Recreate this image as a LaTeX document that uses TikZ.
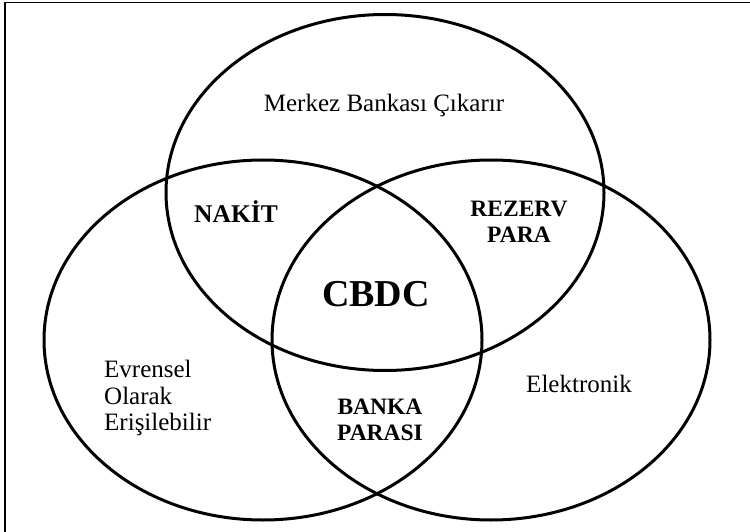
\documentclass[tikz,border=0pt]{standalone}
\usepackage{fontspec}
\setmainfont{Liberation Serif}
\begin{document}
\begin{tikzpicture}[x=1pt,y=-1pt,
  ring/.style={draw=black,line width=3pt},
  plain/.style={font=\fontsize{25}{26.5}\selectfont,inner sep=0pt},
  overlap/.style={font=\bfseries\fontsize{23.5}{26}\selectfont,inner sep=0pt,align=center},
  core/.style={font=\bfseries\fontsize{38}{40}\selectfont,inner sep=0pt}]
\useasboundingbox (0,0) rectangle (750,532);
\clip (0,0) rectangle (750,532);
\fill[white] (0,0) rectangle (750,532);
% frame (only its top and left sides fall inside the page)
\draw[line width=1.4pt] (5,2.5) rectangle (760,545);
% the three sets
\coordinate (ctop) at (385,192.5);
\coordinate (cleft) at (263,340);
\coordinate (cright) at (491,340);
\draw[ring] (ctop) ellipse [x radius=219, y radius=178];
\draw[ring] (cleft) ellipse [x radius=219, y radius=180];
\draw[ring] (cright) ellipse [x radius=219, y radius=180];
% labels
\node[plain] (issuer) at (384,105) {Merkez Bankası Çıkarır};
\node[overlap,font=\bfseries\fontsize{25.5}{26}\selectfont] (cash) at (236,212) {NAKİT};
\node[overlap] (reserve) at (519,222) {REZERV\\PARA};
\node[core] (cbdc) at (376,294) {CBDC};
\node[plain,align=left,anchor=west] (access) at (104,398) {Evrensel\\Olarak\\Erişilebilir};
\node[plain] (electronic) at (579,384) {Elektronik};
\node[overlap] (bank) at (380,420) {BANKA\\PARASI};
\end{tikzpicture}
\end{document}
